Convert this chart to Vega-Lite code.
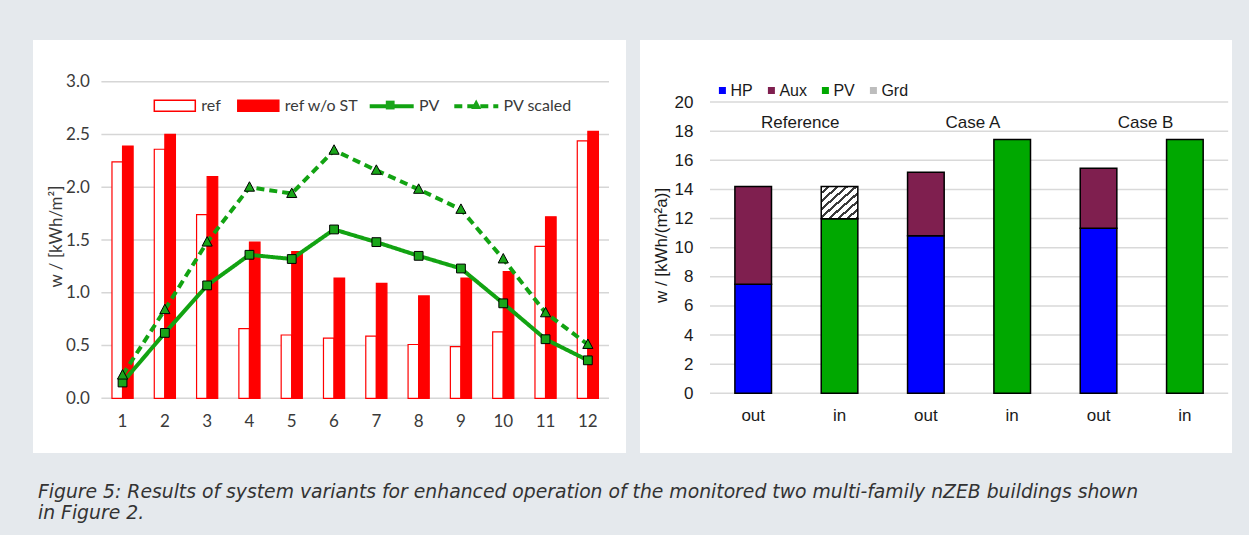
{
  "$schema": "https://vega.github.io/schema/vega-lite/v6.json",
  "background": "#e5e9ed",
  "padding": {"left": 33, "top": 40, "right": 17, "bottom": 12},
  "spacing": 14,
  "resolve": {"scale": {"fill": "independent", "shape": "independent", "strokeDash": "independent"}, "legend": {"fill": "independent", "shape": "independent", "strokeDash": "independent"}},
  "title": {
    "text": ["Figure 5: Results of system variants for enhanced operation of the monitored two multi-family nZEB buildings shown", "in Figure 2."],
    "orient": "bottom",
    "anchor": "start",
    "font": "DejaVu Sans",
    "fontStyle": "italic",
    "fontWeight": "normal",
    "fontSize": 18.8,
    "lineHeight": 21,
    "color": "#333333",
    "offset": 30,
    "dx": 5
  },
  "datasets": {
    "left": [
      {"month": 1, "series": "ref", "value": 2.24},
      {"month": 2, "series": "ref", "value": 2.36},
      {"month": 3, "series": "ref", "value": 1.74},
      {"month": 4, "series": "ref", "value": 0.66},
      {"month": 5, "series": "ref", "value": 0.60},
      {"month": 6, "series": "ref", "value": 0.57},
      {"month": 7, "series": "ref", "value": 0.59},
      {"month": 8, "series": "ref", "value": 0.51},
      {"month": 9, "series": "ref", "value": 0.49},
      {"month": 10, "series": "ref", "value": 0.63},
      {"month": 11, "series": "ref", "value": 1.44},
      {"month": 12, "series": "ref", "value": 2.44},
      {"month": 1, "series": "ref w/o ST", "value": 2.39},
      {"month": 2, "series": "ref w/o ST", "value": 2.50},
      {"month": 3, "series": "ref w/o ST", "value": 2.10},
      {"month": 4, "series": "ref w/o ST", "value": 1.48},
      {"month": 5, "series": "ref w/o ST", "value": 1.39},
      {"month": 6, "series": "ref w/o ST", "value": 1.14},
      {"month": 7, "series": "ref w/o ST", "value": 1.09},
      {"month": 8, "series": "ref w/o ST", "value": 0.97},
      {"month": 9, "series": "ref w/o ST", "value": 1.14},
      {"month": 10, "series": "ref w/o ST", "value": 1.20},
      {"month": 11, "series": "ref w/o ST", "value": 1.72},
      {"month": 12, "series": "ref w/o ST", "value": 2.53},
      {"month": 1, "series": "PV", "value": 0.15},
      {"month": 2, "series": "PV", "value": 0.62},
      {"month": 3, "series": "PV", "value": 1.07},
      {"month": 4, "series": "PV", "value": 1.36},
      {"month": 5, "series": "PV", "value": 1.32},
      {"month": 6, "series": "PV", "value": 1.60},
      {"month": 7, "series": "PV", "value": 1.48},
      {"month": 8, "series": "PV", "value": 1.35},
      {"month": 9, "series": "PV", "value": 1.23},
      {"month": 10, "series": "PV", "value": 0.90},
      {"month": 11, "series": "PV", "value": 0.56},
      {"month": 12, "series": "PV", "value": 0.36},
      {"month": 1, "series": "PV scaled", "value": 0.22},
      {"month": 2, "series": "PV scaled", "value": 0.84},
      {"month": 3, "series": "PV scaled", "value": 1.48},
      {"month": 4, "series": "PV scaled", "value": 2.00},
      {"month": 5, "series": "PV scaled", "value": 1.94},
      {"month": 6, "series": "PV scaled", "value": 2.35},
      {"month": 7, "series": "PV scaled", "value": 2.16},
      {"month": 8, "series": "PV scaled", "value": 1.98},
      {"month": 9, "series": "PV scaled", "value": 1.79},
      {"month": 10, "series": "PV scaled", "value": 1.32},
      {"month": 11, "series": "PV scaled", "value": 0.81},
      {"month": 12, "series": "PV scaled", "value": 0.51}
    ],
    "right": [
      {"bar": "Reference out", "comp": "HP", "value": 7.49},
      {"bar": "Reference out", "comp": "Aux", "value": 6.71},
      {"bar": "Reference in", "comp": "PV", "value": 11.98},
      {"bar": "Reference in", "comp": "Grd", "value": 2.22},
      {"bar": "Case A out", "comp": "HP", "value": 10.81},
      {"bar": "Case A out", "comp": "Aux", "value": 4.36},
      {"bar": "Case A in", "comp": "PV", "value": 17.42},
      {"bar": "Case B out", "comp": "HP", "value": 11.34},
      {"bar": "Case B out", "comp": "Aux", "value": 4.12},
      {"bar": "Case B in", "comp": "PV", "value": 17.43}
    ],
    "leftGrid": [{"v": 0}, {"v": 0.5}, {"v": 1}, {"v": 1.5}, {"v": 2}, {"v": 2.5}, {"v": 3}],
    "rightGrid": [{"v": 0}, {"v": 2}, {"v": 4}, {"v": 6}, {"v": 8}, {"v": 10}, {"v": 12}, {"v": 14}, {"v": 16}, {"v": 18}, {"v": 20}]
  },
  "hconcat": [
    {
      "width": 593,
      "height": 413,
      "view": {"fill": "white", "stroke": null},
      "layer": [
        {
          "data": {"name": "leftGrid"},
          "mark": {"type": "rule", "color": "#d6d6d6", "strokeWidth": 1.5},
          "encoding": {
            "x": {"datum": 1, "type": "ordinal", "bandPosition": -0.5,
              "scale": {"type": "band", "domain": [1,2,3,4,5,6,7,8,9,10,11,12], "range": [68.4, 576], "paddingInner": 0.5, "paddingOuter": 0.25, "round": false},
              "axis": {"orient": "bottom", "offset": -54.7, "bandPosition": 0.5, "domain": false, "ticks": false, "tickSize": 0, "grid": false,
                "labelPadding": 15, "labelAngle": 0, "labelAlign": "center", "labelFont": "Lato", "labelFontSize": 17, "labelColor": "#3a3a3a", "title": null}},
            "x2": {"datum": 12, "bandPosition": 1.5},
            "y": {"field": "v", "type": "quantitative",
              "scale": {"domain": [-0.518, 3.395], "nice": false, "zero": false},
              "axis": {
                "orient": "left", "offset": -69, "values": [0, 0.5, 1, 1.5, 2, 2.5, 3], "format": ".1f",
                "domain": false, "ticks": false, "tickSize": 0, "grid": false,
                "labelPadding": 12.7, "labelFont": "Lato", "labelFontSize": 17, "labelColor": "#3a3a3a",
                "title": "w / [kWh/m²]", "titleFont": "Lato", "titleFontSize": 17, "titleFontWeight": "normal", "titleColor": "#3a3a3a",
                "titleX": -45.3, "titleY": 196, "titleBaseline": "middle", "titleAngle": -90, "titleAlign": "center"
              }}
          }
        },
        {
          "data": {"name": "left"},
          "transform": [{"filter": "datum.series === 'ref' || datum.series === 'ref w/o ST'"}],
          "mark": {"type": "bar", "stroke": "#ff0000", "strokeWidth": 1.2},
          "encoding": {
            "x": {"field": "month", "type": "ordinal",
              "scale": {"type": "band", "domain": [1,2,3,4,5,6,7,8,9,10,11,12], "range": [68.4, 576], "paddingInner": 0.5, "paddingOuter": 0.25, "round": false},
              "axis": {"orient": "bottom", "offset": -54.7, "bandPosition": 0.5, "domain": false, "ticks": false, "tickSize": 0, "grid": false,
                "labelPadding": 15, "labelAngle": 0, "labelAlign": "center", "labelFont": "Lato", "labelFontSize": 17, "labelColor": "#3a3a3a", "title": null}},
            "xOffset": {"field": "series", "type": "nominal", "scale": {"domain": ["ref", "ref w/o ST"], "paddingInner": 0, "paddingOuter": 0}},
            "y": {"field": "value", "type": "quantitative", "stack": null,
              "scale": {"domain": [-0.518, 3.395], "nice": false, "zero": false}},
            "fill": {"field": "series", "type": "nominal",
              "scale": {"domain": ["ref", "ref w/o ST"], "range": ["#ffffff", "#ff0000"]},
              "legend": {"orient": "none", "legendX": 120.3, "legendY": 43.8, "direction": "horizontal", "title": null, "padding": 0,
                "symbolType": "M-1,-0.27H1V0.27H-1Z", "symbolSize": 1681, "symbolStrokeColor": "#ff0000", "symbolStrokeWidth": 1.5,
                "labelFont": "Lato", "labelFontSize": 16, "labelColor": "#3a3a3a", "labelOffset": 5, "columnPadding": 13.5}}
          }
        },
        {
          "data": {"name": "left"},
          "transform": [{"filter": "datum.series === 'PV' || datum.series === 'PV scaled'"}],
          "mark": {"type": "line", "stroke": "#12a312", "strokeWidth": 4},
          "encoding": {
            "x": {"field": "month", "type": "ordinal",
              "scale": {"type": "band", "domain": [1,2,3,4,5,6,7,8,9,10,11,12], "range": [68.4, 576], "paddingInner": 0.5, "paddingOuter": 0.25, "round": false},
              "axis": {"orient": "bottom", "offset": -54.7, "bandPosition": 0.5, "domain": false, "ticks": false, "tickSize": 0, "grid": false,
                "labelPadding": 15, "labelAngle": 0, "labelAlign": "center", "labelFont": "Lato", "labelFontSize": 17, "labelColor": "#3a3a3a", "title": null}},
            "y": {"field": "value", "type": "quantitative",
              "scale": {"domain": [-0.518, 3.395], "nice": false, "zero": false}},
            "strokeDash": {"field": "series", "type": "nominal",
              "scale": {"domain": ["PV", "PV scaled"], "range": [[1, 0], [8, 5]]},
              "legend": {"orient": "none", "legendX": 334.7, "legendY": 42.3, "direction": "horizontal", "title": null, "padding": 0,
                "symbolType": "stroke", "symbolSize": 1936, "symbolStrokeColor": "#12a312", "symbolStrokeWidth": 4,
                "labelFont": "Lato", "labelFontSize": 16, "labelColor": "#3a3a3a", "labelOffset": 3.3, "columnPadding": 6.6}}
          }
        },
        {
          "data": {"name": "left"},
          "transform": [{"filter": "datum.series === 'PV' || datum.series === 'PV scaled'"}],
          "mark": {"type": "point", "filled": true, "fill": "#1aa51a", "stroke": "#000000", "strokeWidth": 1, "opacity": 1, "size": 1936},
          "encoding": {
            "x": {"field": "month", "type": "ordinal",
              "scale": {"type": "band", "domain": [1,2,3,4,5,6,7,8,9,10,11,12], "range": [68.4, 576], "paddingInner": 0.5, "paddingOuter": 0.25, "round": false},
              "axis": {"orient": "bottom", "offset": -54.7, "bandPosition": 0.5, "domain": false, "ticks": false, "tickSize": 0, "grid": false,
                "labelPadding": 15, "labelAngle": 0, "labelAlign": "center", "labelFont": "Lato", "labelFontSize": 17, "labelColor": "#3a3a3a", "title": null}},
            "y": {"field": "value", "type": "quantitative",
              "scale": {"domain": [-0.518, 3.395], "nice": false, "zero": false}},
            "shape": {"field": "series", "type": "nominal",
              "scale": {"range": ["M-1,0M1,0M-0.2,-0.2H0.2V0.2H-0.2Z", "M-1,0M1,0M0,-0.25L0.23,0.18H-0.23Z"]},
              "legend": {"orient": "none", "legendX": 334.7, "legendY": 42.3, "direction": "horizontal", "title": null, "padding": 0,
                "symbolSize": 1936, "symbolFillColor": "#1aa51a", "symbolStrokeColor": "#000000", "symbolStrokeWidth": 1,
                "labelExpr": "''", "labelFont": "Lato", "labelFontSize": 16, "labelOffset": 3.3, "columnPadding": 35}}
          }
        }
      ]
    },
    {
      "width": 592,
      "height": 413,
      "view": {"fill": "white", "stroke": null},
      "layer": [
        {
          "data": {"name": "rightGrid"},
          "mark": {"type": "rule", "color": "#d9d9d9", "strokeWidth": 1.5},
          "encoding": {
            "x": {"datum": "Reference out", "type": "nominal", "bandPosition": -0.68,
              "scale": {"type": "band", "domain": ["Reference out", "Reference in", "Case A out", "Case A in", "Case B out", "Case B in"], "paddingInner": 0.576, "paddingOuter": 0.7165, "align": 0.767, "round": false},
              "axis": {"orient": "top", "values": ["Reference out", "Case A out", "Case B out"], "labelExpr": "replace(datum.label, ' out', '')",
                "labelOffset": 47, "offset": -93, "domain": false, "ticks": false, "tickSize": 0, "grid": false, "labelPadding": 2,
                "labelFont": "Liberation Sans", "labelFontSize": 17, "labelColor": "#1a1a1a", "labelAngle": 0, "labelOverlap": false, "labelFlush": false, "title": null}},
            "x2": {"datum": "Case B in", "bandPosition": 1.683},
            "y": {"field": "v", "type": "quantitative",
              "scale": {"domain": [-4.099, 24.257], "nice": false, "zero": false},
              "axis": {
                "orient": "left", "offset": -70, "values": [0, 2, 4, 6, 8, 10, 12, 14, 16, 18, 20],
                "domain": false, "ticks": false, "tickSize": 0, "grid": false,
                "labelPadding": 17, "labelFont": "Liberation Sans", "labelFontSize": 17, "labelColor": "#1a1a1a",
                "title": "w / [kWh/(m²a)]", "titleFont": "Liberation Sans", "titleFontSize": 17, "titleFontWeight": "normal", "titleColor": "#1a1a1a",
                "titleX": -48.3, "titleY": 205, "titleBaseline": "middle", "titleAngle": -90, "titleAlign": "center"
              }}
          }
        },
        {
          "data": {"name": "right"},
          "mark": {"type": "bar", "stroke": "#000000", "strokeWidth": 1.5},
          "encoding": {
            "x": {"field": "bar", "type": "nominal",
              "scale": {"type": "band", "domain": ["Reference out", "Reference in", "Case A out", "Case A in", "Case B out", "Case B in"], "paddingInner": 0.576, "paddingOuter": 0.7165, "align": 0.767, "round": false},
              "axis": {"orient": "bottom", "offset": -59.7, "labelExpr": "slice(datum.label, -3) == 'out' ? 'out' : 'in'",
                "domain": false, "ticks": false, "tickSize": 0, "grid": false, "labelPadding": 14.5, "labelAngle": 0,
                "labelFont": "Liberation Sans", "labelFontSize": 17, "labelColor": "#1a1a1a", "title": null}},
            "y": {"field": "value", "type": "quantitative",
              "scale": {"domain": [-4.099, 24.257], "nice": false, "zero": false}},
            "order": {"field": "comp", "sort": "descending"},
            "fill": {
              "condition": {"test": "datum.comp === 'Grd'", "value": {"gradient": "linear", "x1": 0, "y1": 0, "x2": 1, "y2": 1, "stops": [
                    {"offset": 0, "color": "#ffffff"}, {"offset": 0.08, "color": "#ffffff"}, {"offset": 0.08, "color": "#3a3a3a"}, {"offset": 0.125, "color": "#3a3a3a"},
                    {"offset": 0.125, "color": "#ffffff"}, {"offset": 0.205, "color": "#ffffff"}, {"offset": 0.205, "color": "#3a3a3a"}, {"offset": 0.25, "color": "#3a3a3a"},
                    {"offset": 0.25, "color": "#ffffff"}, {"offset": 0.33, "color": "#ffffff"}, {"offset": 0.33, "color": "#3a3a3a"}, {"offset": 0.375, "color": "#3a3a3a"},
                    {"offset": 0.375, "color": "#ffffff"}, {"offset": 0.455, "color": "#ffffff"}, {"offset": 0.455, "color": "#3a3a3a"}, {"offset": 0.5, "color": "#3a3a3a"},
                    {"offset": 0.5, "color": "#ffffff"}, {"offset": 0.58, "color": "#ffffff"}, {"offset": 0.58, "color": "#3a3a3a"}, {"offset": 0.625, "color": "#3a3a3a"},
                    {"offset": 0.625, "color": "#ffffff"}, {"offset": 0.705, "color": "#ffffff"}, {"offset": 0.705, "color": "#3a3a3a"}, {"offset": 0.75, "color": "#3a3a3a"},
                    {"offset": 0.75, "color": "#ffffff"}, {"offset": 0.83, "color": "#ffffff"}, {"offset": 0.83, "color": "#3a3a3a"}, {"offset": 0.875, "color": "#3a3a3a"},
                    {"offset": 0.875, "color": "#ffffff"}, {"offset": 0.955, "color": "#ffffff"}, {"offset": 0.955, "color": "#3a3a3a"}, {"offset": 1, "color": "#3a3a3a"}
                  ]}},
              "field": "comp", "type": "nominal",
              "scale": {"domain": ["HP", "Aux", "PV", "Grd"], "range": ["#0000ff", "#7f1f4f", "#00a800", "#bdbdbd"]},
              "legend": {"orient": "none", "legendX": 74.4, "legendY": 42.5, "direction": "horizontal", "title": null, "padding": 0,
                "symbolType": "square", "symbolSize": 49, "symbolStrokeColor": "#000000", "symbolStrokeWidth": 1,
                "labelFont": "Liberation Sans", "labelFontSize": 16, "labelColor": "#1a1a1a", "labelOffset": 0, "columnPadding": 10,
                "encode": {"symbols": {"update": {"fill": {"signal": "datum.value === 'HP' ? '#0000ff' : datum.value === 'Aux' ? '#7f1f4f' : datum.value === 'PV' ? '#00a800' : {gradient: 'linear', x1: 0, y1: 0, x2: 1, y2: 1, stops: [{offset: 0, color: '#ffffff'}, {offset: 0.4, color: '#ffffff'}, {offset: 0.4, color: '#333333'}, {offset: 0.6, color: '#333333'}, {offset: 0.6, color: '#ffffff'}, {offset: 1, color: '#ffffff'}]}"}}}}}
            }
          }
        }
      ]
    }
  ]
}
